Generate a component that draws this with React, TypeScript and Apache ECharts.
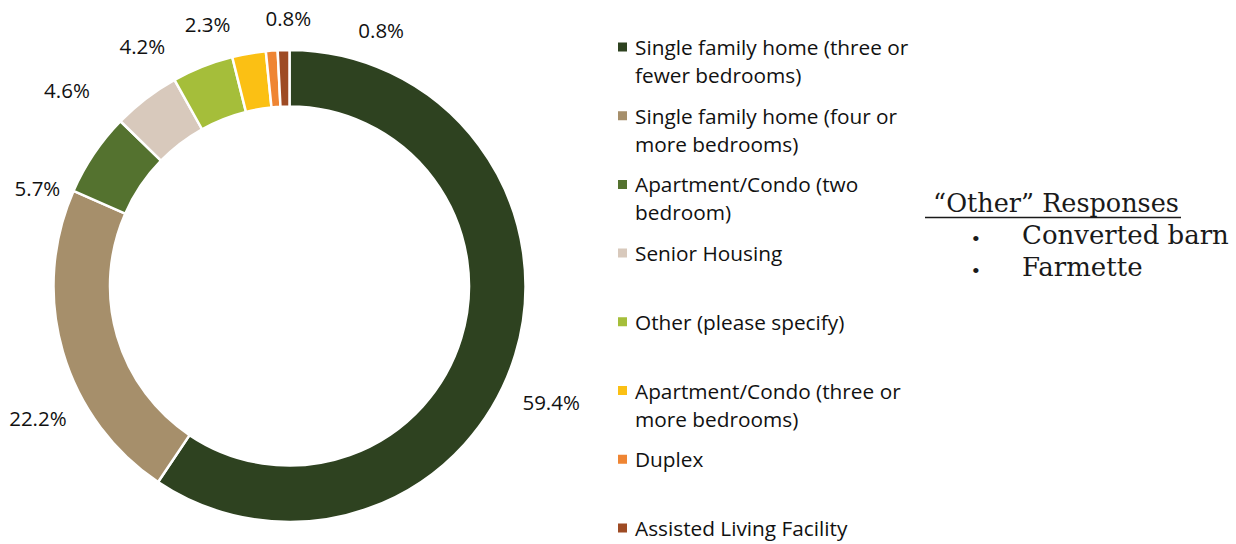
import React, { useEffect, useRef } from "react";
import * as echarts from "echarts";

const categories = [
  "Single family home (three or fewer bedrooms)",
  "Single family home (four or more bedrooms)",
  "Apartment/Condo (two bedroom)",
  "Senior Housing",
  "Other (please specify)",
  "Apartment/Condo (three or more bedrooms)",
  "Duplex",
  "Assisted Living Facility",
];
const legendLabels = [
  "Single family home (three or\nfewer bedrooms)",
  "Single family home (four or\nmore bedrooms)",
  "Apartment/Condo (two\nbedroom)",
  "Senior Housing\n ",
  "Other (please specify)\n ",
  "Apartment/Condo (three or\nmore bedrooms)",
  "Duplex\n ",
  "Assisted Living Facility\n ",
];
const values = [59.4, 22.2, 5.7, 4.6, 4.2, 2.3, 0.8, 0.8];
const colors = ["#2E4220", "#A68F6B", "#54722F", "#D8C9BC", "#A5BE3A", "#FBC014", "#EF8533", "#9E4B24"];
const otherTitle = " \u201COther\u201D Responses";
const otherItems = ["Converted barn", "Farmette"];

// label nudges (dx, dy) to mimic Excel's best-fit label placement
const labelNudges: [number, number][] = [
  [-17, 41],
  [28, 61],
  [-12, 45],
  [-39, 7],
  [-25, -2],
  [-10, -10],
  [46, -13],
  [126, 0],
];

const sans = "'Open Sans', 'Noto Sans', sans-serif";
const serif = "'DejaVu Serif', 'Liberation Serif', serif";

export default function App() {
  const ref = useRef<HTMLDivElement>(null);
  useEffect(() => {
    document.body.style.margin = "0";
    if (!ref.current) return;
    const chart = echarts.init(ref.current, undefined, { renderer: "svg" });
    chart.setOption({
      animation: false,
      backgroundColor: "#ffffff",
      color: colors,
      legend: {
        orient: "vertical",
        left: 618,
        top: 33,
        height: 800,
        padding: 0,
        itemWidth: 12,
        itemHeight: 37,
        itemGap: 12.7,
        icon: "path://M0,0L9,0L9,9L0,9ZM0,37L12,37",
        itemStyle: { borderWidth: 0 },
        selectedMode: false,
        data: categories,
        formatter: (name: string) => legendLabels[categories.indexOf(name)],
        textStyle: { fontFamily: sans, fontSize: 20.8, lineHeight: 28, color: "#111" },
      },
      series: [
        {
          type: "pie",
          center: [289.5, 286],
          radius: [179.5, 236],
          startAngle: 90,
          clockwise: true,
          avoidLabelOverlap: false,
          itemStyle: { borderColor: "#ffffff", borderWidth: 2.5 },
          label: {
            show: true,
            position: "outside",
            fontFamily: sans,
            fontSize: 20.5,
            color: "#111",
            formatter: (p: any) => `${Number(p.value).toFixed(1)}%`,
          },
          labelLine: { show: false, length: 20, length2: 0 },
          labelLayout: (p: any) => {
            const n = labelNudges[p.dataIndex] || [0, 0];
            return { dx: n[0], dy: n[1] };
          },
          emphasis: { disabled: true },
          data: categories.map((c, i) => ({ name: c, value: values[i] })),
        },
      ],
      graphic: [
        {
          type: "text",
          left: 925,
          top: 189,
          style: { text: otherTitle, font: `25.5px ${serif}`, lineHeight: 28, fill: "#1a1a1a" },
        },
        {
          type: "line",
          shape: { x1: 925, y1: 217.5, x2: 1181, y2: 217.5 },
          style: { stroke: "#1a1a1a", lineWidth: 1.3 },
        },
        {
          type: "text",
          left: 972,
          top: 222,
          style: {
            text: otherItems.map(() => "\u2022").join("\n"),
            font: `22px 'Liberation Serif', serif`,
            lineHeight: 32,
            fill: "#1a1a1a",
          },
        },
        {
          type: "text",
          left: 1022,
          top: 219,
          style: { text: otherItems.join("\n"), font: `26px ${serif}`, lineHeight: 32, fill: "#1a1a1a" },
        },
      ],
    });
    return () => chart.dispose();
  }, []);
  return <div ref={ref} style={{ width: 1236, height: 544 }} />;
}
